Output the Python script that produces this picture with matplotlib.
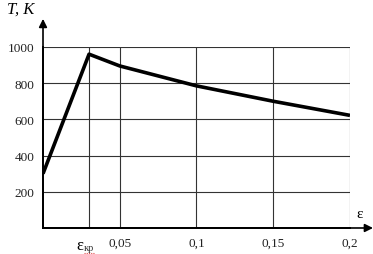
import matplotlib.pyplot as plt

# strain vs temperature
eps = [0.0, 0.03, 0.05, 0.1, 0.15, 0.2]
temp = [300, 960, 895, 785, 700, 622]

eps_kr = 0.03
x_ticks = [0.05, 0.1, 0.15, 0.2]
x_labels = ['0,05', '0,1', '0,15', '0,2']
y_ticks = [200, 400, 600, 800, 1000]
y_labels = ['200', '400', '600', '800', '1000']

plt.rcParams['font.family'] = ['Liberation Serif', 'DejaVu Serif']

fig = plt.figure(figsize=(3.73, 2.55), dpi=100)
ax = fig.add_axes([0.1153, 0.102, 0.823, 0.71])

ax.set_xlim(0, 0.2)
ax.set_ylim(0, 1000)

# grid
for y in y_ticks:
    ax.axhline(y, color='#333333', lw=0.8, zorder=1)
for x in [eps_kr] + x_ticks:
    ax.axvline(x, color='#333333', lw=0.8, zorder=1)

ax.plot(eps, temp, color='black', lw=2.6, zorder=3, solid_capstyle='butt')

for s in ['top', 'right']:
    ax.spines[s].set_visible(False)
for s in ['left', 'bottom']:
    ax.spines[s].set_linewidth(1.4)

ax.set_xticks(x_ticks)
ax.set_xticklabels(x_labels)
ax.set_yticks(y_ticks)
ax.set_yticklabels(y_labels)
ax.tick_params(length=0, labelsize=9.5, pad=6, colors='#222222')

# arrows on axes
ax.annotate('', xy=(0, 1.155), xytext=(0, 0), xycoords='axes fraction',
            arrowprops=dict(arrowstyle='-|>', color='black', lw=1.2,
                            mutation_scale=12, shrinkA=0, shrinkB=0))
ax.annotate('', xy=(1.075, 0), xytext=(0, 0), xycoords='axes fraction',
            arrowprops=dict(arrowstyle='-|>', color='black', lw=1.2,
                            mutation_scale=12, shrinkA=0, shrinkB=0))

ax.text(-0.118, 1.21, 'T, K', transform=ax.transAxes, fontsize=12,
        style='italic', ha='left', va='center')
ax.text(1.03, 0.045, 'ε', transform=ax.transAxes, fontsize=11,
        ha='center', va='bottom')

# critical strain label
xt = ax.get_xaxis_transform()
ax.text(0.0241, -0.094, 'ε', transform=xt, fontsize=12,
        ha='center', va='center')
ax.text(0.0299, -0.108, 'кр', transform=xt, fontsize=7.5,
        ha='center', va='center', color='#333333')
ax.plot([0.0268, 0.0332], [-0.138, -0.138], transform=xt, color='#e05050',
        lw=0.8, ls=(0, (1, 1)), clip_on=False)

fig.savefig('out.png', dpi=100)
